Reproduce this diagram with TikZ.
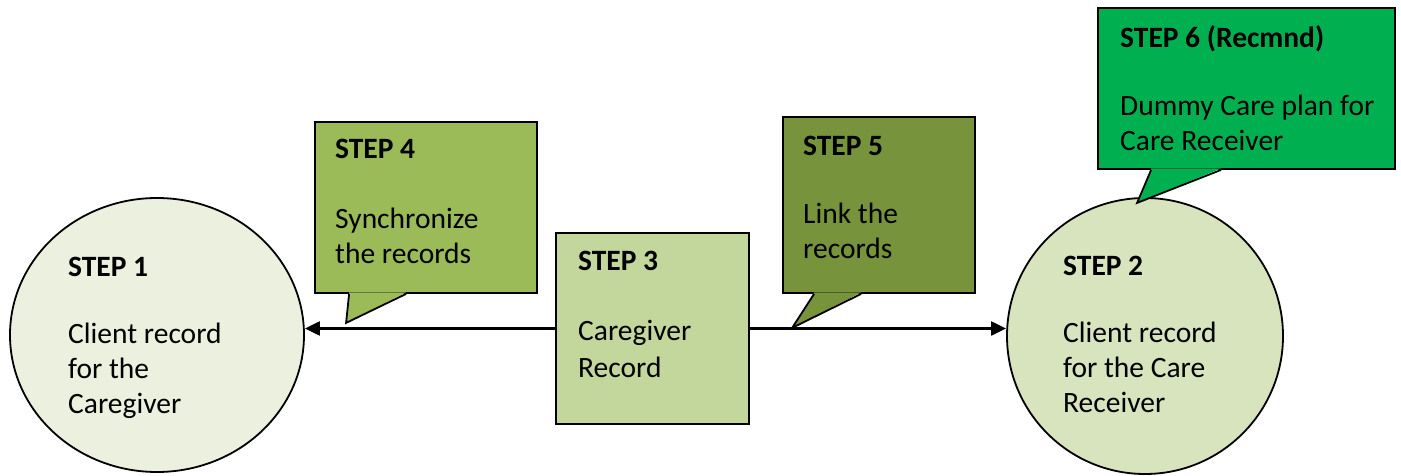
\documentclass[tikz,border=0pt]{standalone}
\usepackage{fontspec}
\setmainfont{Carlito}
\usetikzlibrary{shapes.geometric,arrows.meta,calc}

\definecolor{paleolive}{HTML}{EBF1DE}
\definecolor{lightolive}{HTML}{D7E4BD}
\definecolor{midolive}{HTML}{C3D69B}
\definecolor{olive}{HTML}{9BBB59}
\definecolor{darkolive}{HTML}{77933C}
\definecolor{brightgreen}{HTML}{00B050}

\tikzset{
    stepshape/.style={draw=black, line width=1.8pt, inner sep=0pt},
    stepbox/.style={stepshape, rectangle},
    steptext/.style={font=\fontsize{29.5}{35}\selectfont, align=left,
                     anchor=north west, inner sep=0pt},
    link/.style={line width=2.2pt, -{Triangle[length=15pt,width=14pt]}},
}

\begin{document}
\begin{tikzpicture}[x=1pt, y=-1pt]
    \useasboundingbox (0,0) rectangle (1401,476);

    % Records
    \node[stepshape, ellipse, fill=paleolive, minimum width=294pt, minimum height=274pt] (s1) at (157,335) {};
    \node[stepshape, circle, fill=lightolive, minimum size=276pt] (s2) at (1145,336) {};
    \node[stepbox, fill=midolive, minimum width=193pt, minimum height=191pt] (s3) at (652.5,328.5) {};

    % Links
    \draw[link] (s3.west) -- (s3.west -| s1.east);
    \draw[link] (s3.east) -- (s3.east -| s2.west);

    % Callouts
    \node[stepbox, fill=olive, minimum width=222pt, minimum height=171pt] (s4) at (426,207.5) {};
    \node[stepbox, fill=darkolive, minimum width=192pt, minimum height=176pt] (s5) at (879,205) {};
    \node[stepbox, fill=brightgreen, minimum width=297pt, minimum height=161pt] (s6) at (1246.5,88.5) {};

    % Callout tails: node/colour/base left/tip x/tip y/base right
    \foreach \n/\c/\a/\tx/\ty/\b in {s4/olive/35/32/29/92, s5/darkolive/32/10/34/79, s6/brightgreen/54/40/33/124} {
        \coordinate (\n-l) at ($(\n.south west)+(\a,0)$);
        \coordinate (\n-t) at ($(\n.south west)+(\tx,\ty)$);
        \coordinate (\n-r) at ($(\n.south west)+(\b,0)$);
        \fill[\c] ($(\n-l)+(0,-1.5)$) -- (\n-t) -- ($(\n-r)+(0,-1.5)$) -- cycle;
        \draw[line width=1.8pt, line join=miter] (\n-l) -- (\n-t) -- (\n-r);
    }

    % Texts
    \node[steptext] (t1) at (68,251) {\rule{0pt}{25pt}\textbf{STEP 1}\\[32pt]Client record\\for the\\Caregiver};
    \node[steptext] (t2) at (1063,250) {\rule{0pt}{25pt}\textbf{STEP 2}\\[32pt]Client record\\for the Care\\Receiver};
    \node[steptext, font=\fontsize{29.5}{37}\selectfont] (t3) at (578,245) {\rule{0pt}{25pt}\textbf{STEP 3}\\[33pt]Caregiver\\Record};
    \node[steptext] (t4) at (335,133) {\rule{0pt}{25pt}\textbf{STEP 4}\\[35pt]Synchronize\\the records};
    \node[steptext] (t5) at (803,130) {\rule{0pt}{25pt}\textbf{STEP 5}\\[33pt]Link the\\records};
    \node[steptext] (t6) at (1120,22) {\rule{0pt}{25pt}\textbf{STEP 6 (Recmnd)}\\[33pt]Dummy Care plan for\\Care Receiver};
\end{tikzpicture}
\end{document}
